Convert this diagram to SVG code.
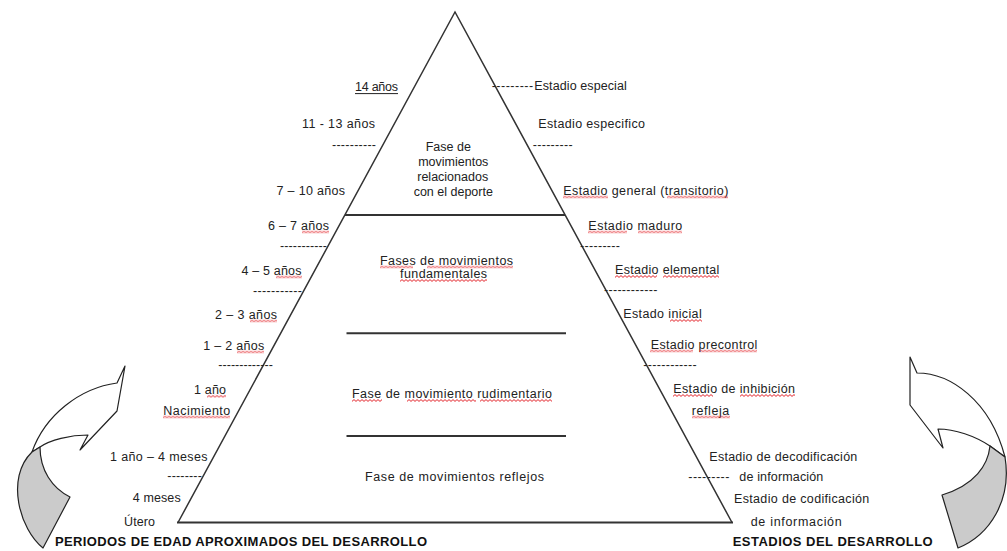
<svg xmlns="http://www.w3.org/2000/svg" width="1007" height="551" viewBox="0 0 1007 551">
<defs>
<style>
.t{font-family:"Liberation Sans",Arial,sans-serif;font-size:12.5px;fill:#222}
.b{font-family:"Liberation Sans",Arial,sans-serif;font-size:13px;font-weight:bold;fill:#111}
.edge{stroke:#333;stroke-width:1.5;fill:none}
.div{stroke:#333;stroke-width:2}
.arrow{fill:#fff;stroke:#222;stroke-width:1.2;stroke-linejoin:round}
.shade{fill:#cbcbcb;stroke:#222;stroke-width:1.2;stroke-linejoin:round}
.sq{fill:url(#wave)}
</style>
<pattern id="wave" patternUnits="userSpaceOnUse" width="4" height="3">
<path d="M0,2.4 L2,0.6 L4,2.4" fill="none" stroke="#e2232a" stroke-width="1"/>
</pattern>
</defs>
<rect width="1007" height="551" fill="#fff"/>

<g id="pyramid">
<path class="edge" d="M178,522.5 L455,12 L732,522.5"/>
<line class="div" x1="177" y1="522.5" x2="733" y2="522.5"/>
<line class="div" x1="345" y1="215" x2="565" y2="215"/>
<line class="div" x1="346.5" y1="333.3" x2="566" y2="333.3"/>
<line class="div" x1="346.5" y1="436" x2="566" y2="436"/>
</g>

<g id="phase-deporte">
<text class="t" text-anchor="middle"><tspan x="448.3" y="151">Fase de</tspan><tspan x="453.3" y="166">movimientos</tspan><tspan x="452.7" y="181">relacionados</tspan><tspan x="453.3" y="195.5">con el deporte</tspan></text>
</g>
<g id="phase-fundamentales">
<text class="t"><tspan x="380" y="264.5" textLength="133">Fases de movimientos</tspan><tspan x="400" y="278" textLength="87">fundamentales</tspan></text>
</g>
<g id="phase-rudimentario">
<text class="t" x="352" y="398" textLength="200">Fase de movimiento rudimentario</text>
</g>
<g id="phase-reflejos">
<text class="t" x="365" y="480.5" textLength="179">Fase de movimientos reflejos</text>
</g>

<g id="ages">
<text class="t" x="355" y="90.5" textLength="43">14 años</text>
<line x1="355" y1="93.6" x2="398" y2="93.6" stroke="#222" stroke-width="1"/>
<text class="t" x="302" y="128" textLength="73">11 - 13 años</text>
<text class="t" x="332" y="149.3" textLength="44">----------</text>
<text class="t" x="276.5" y="194.5" textLength="68.5">7 – 10 años</text>
<text class="t" x="268" y="229.5" textLength="61">6 – 7 años</text>
<text class="t" x="280" y="250.3" textLength="47">-----------</text>
<text class="t" x="241.5" y="274.5" textLength="60">4 – 5 años</text>
<text class="t" x="253" y="294.6" textLength="49">-----------</text>
<text class="t" x="215" y="318.5" textLength="62">2 – 3 años</text>
<text class="t" x="203.3" y="349.5" textLength="61">1 – 2 años</text>
<text class="t" x="218.3" y="369.3" textLength="54.5">-------------</text>
<text class="t" x="194" y="393.8" textLength="32">1 año</text>
<text class="t" x="163.3" y="414.5" textLength="67">Nacimiento</text>
<text class="t" x="110" y="461" textLength="97.5">1 año – 4 meses</text>
<text class="t" x="167.3" y="480.3" textLength="34.5">--------</text>
<text class="t" x="132.7" y="502" textLength="48">4 meses</text>
<text class="t" x="124" y="525.5" textLength="31">Útero</text>
<text class="b" x="55" y="546" textLength="372">PERIODOS DE EDAD APROXIMADOS DEL DESARROLLO</text>
</g>

<g id="stages">
<text class="t" y="90"><tspan x="491.7" textLength="41.5">---------</tspan><tspan x="534.3" textLength="92.5">Estadio especial</tspan></text>
<text class="t" x="538.3" y="128" textLength="106.7">Estadio especifico</text>
<text class="t" x="532.7" y="149.3" textLength="40">---------</text>
<text class="t" x="563.3" y="194.5" textLength="165">Estadio general (transitorio)</text>
<text class="t" x="588.3" y="229.5" textLength="94">Estadio maduro</text>
<text class="t" x="580" y="250.3" textLength="40">---------</text>
<text class="t" x="615" y="274" textLength="104.3">Estadio elemental</text>
<text class="t" x="604" y="294.3" textLength="53.3">------------</text>
<text class="t" x="623.3" y="318" textLength="78.4">Estado inicial</text>
<text class="t" x="650.7" y="348.5" textLength="106.6">Estadio precontrol</text>
<text class="t" x="643.3" y="369.3" textLength="53.4">------------</text>
<text class="t" x="673.3" y="393" textLength="121.7">Estadio de inhibición</text>
<text class="t" x="691.7" y="414.5" textLength="37.6">refleja</text>
<text class="t" x="709.3" y="460.5" textLength="148">Estadio de decodificación</text>
<text class="t" y="481"><tspan x="688.3" textLength="41">---------</tspan><tspan x="739.3" textLength="84">de información</tspan></text>
<text class="t" x="734" y="503" textLength="135.3">Estadio de codificación</text>
<text class="t" x="750.7" y="526" textLength="91">de información</text>
<text class="b" x="732.7" y="546" textLength="200">ESTADIOS DEL DESARROLLO</text>
</g>

<g id="spellcheck-marks">
<rect class="sq" transform="translate(563,195.5)" width="45" height="3"/>
<rect class="sq" transform="translate(667,195.5)" width="61" height="3"/>
<rect class="sq" transform="translate(588,230.5)" width="39" height="3"/>
<rect class="sq" transform="translate(638,230.5)" width="44" height="3"/>
<rect class="sq" transform="translate(615,275)" width="42" height="3"/>
<rect class="sq" transform="translate(663,275)" width="56" height="3"/>
<rect class="sq" transform="translate(670,319)" width="32" height="3"/>
<rect class="sq" transform="translate(650,349.5)" width="43" height="3"/>
<rect class="sq" transform="translate(699,349.5)" width="58" height="3"/>
<rect class="sq" transform="translate(673,394)" width="40" height="3"/>
<rect class="sq" transform="translate(740,394)" width="55" height="3"/>
<rect class="sq" transform="translate(692,415.5)" width="38" height="3"/>
<rect class="sq" transform="translate(302,230.5)" width="27" height="3"/>
<rect class="sq" transform="translate(276,275.5)" width="26" height="3"/>
<rect class="sq" transform="translate(250,319.5)" width="27" height="3"/>
<rect class="sq" transform="translate(237,350.5)" width="27" height="3"/>
<rect class="sq" transform="translate(207,394.8)" width="19" height="3"/>
<rect class="sq" transform="translate(163,415.5)" width="67" height="3"/>
<rect class="sq" transform="translate(380,265.5)" width="33" height="3"/>
<rect class="sq" transform="translate(427,265.5)" width="86" height="3"/>
<rect class="sq" transform="translate(400,279)" width="87" height="3"/>
<rect class="sq" transform="translate(352,399)" width="30" height="3"/>
<rect class="sq" transform="translate(407,399)" width="69" height="3"/>
<rect class="sq" transform="translate(480,399)" width="72" height="3"/>
</g>

<g id="arrow-left">
<path class="arrow" d="M125,366 L117,383 C80,388 45,415 32,452 L40,447 C50,440 70,435 88,435 L80,450 L117,411 Z"/>
<path class="shade" d="M40,447 C40,470 52,488 70,497 L43,548 C20,530 5,478 32,452 Z"/>
</g>
<g id="arrow-right">
<path class="arrow" d="M910,357 L917,373 C950,373 990,400 1005,457 L990,446 C975,436 955,429 938,429 L943,448 L910,405 Z"/>
<path class="shade" d="M990,446 C988,465 975,485 942,495 L958,548 C990,535 1012,500 1005,457 Z"/>
</g>

<g id="connectors"></g>
</svg>
